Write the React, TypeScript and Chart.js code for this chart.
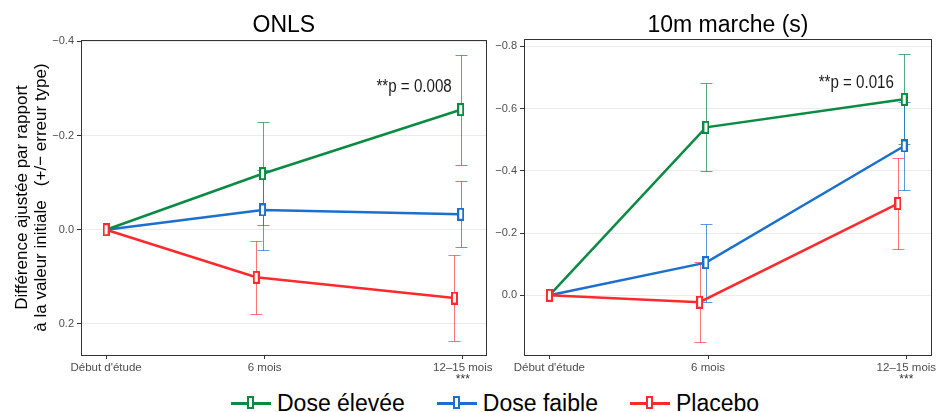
import React, { useEffect, useRef } from "react";
import { Chart, registerables } from "chart.js";

Chart.register(...registerables);

// ---------- data ----------
const months = [0, 6, 13.5];
const xTickLabels = ["Début d'étude", "6 mois", "12–15 mois"];
const xTickNotes = ["", "", "***"];

const seriesNames = ["Dose élevée", "Dose faible", "Placebo"];
const seriesColors = ["#0b8a43", "#1b6fce", "#ff2a2e"];
const seriesErrColors = ["rgba(11,138,67,0.7)", "rgba(27,111,206,0.7)", "rgba(255,42,46,0.65)"];
const seriesDodge = [-0.08, -0.08, -0.32];
const seriesOrder = [1, 2, 0];

// ONLS panel
const onlsHigh = [0, -0.119, -0.255];
const onlsHighSE = [0, 0.109, 0.117];
const onlsLow = [0, -0.042, -0.033];
const onlsLowSE = [0, 0.084, 0.07];
const onlsPlacebo = [0, 0.101, 0.145];
const onlsPlaceboSE = [0, 0.077, 0.092];
const onlsYTicks = [-0.4, -0.2, 0, 0.2];

// 10m marche panel
const walkHigh = [0, -0.54, -0.63];
const walkHighSE = [0, 0.1415, 0.145];
const walkLow = [0, -0.105, -0.48];
const walkLowSE = [0, 0.125, 0.141];
const walkPlacebo = [0, 0.022, -0.295];
const walkPlaceboSE = [0, 0.128, 0.147];
const walkYTicks = [-0.8, -0.6, -0.4, -0.2, 0];

const yTitleLines = ["Différence ajustée par rapport", "à la valeur initiale   (+/− erreur type)"];

const FONT = "'Liberation Sans', Arial, Helvetica, sans-serif";

type Panel = {
  title: string;
  means: number[][];
  ses: number[][];
  yMin: number;
  yMax: number;
  yTicks: number[];
  note: { text: string; x: number; y: number };
  showYTitle: boolean;
  yWidth: number;
  padTop: number;
  padRight: number;
  canvasW: number;
  xMin: number;
  xMax: number;
};

const panels: Panel[] = [
  {
    title: "ONLS",
    means: [onlsHigh, onlsLow, onlsPlacebo],
    ses: [onlsHighSE, onlsLowSE, onlsPlaceboSE],
    yMin: -0.403,
    yMax: 0.266,
    yTicks: onlsYTicks,
    note: { text: "**p = 0.008", x: 13.08, y: -0.303 },
    showYTitle: true,
    yWidth: 81,
    padTop: 40,
    padRight: 7,
    canvasW: 495,
    xMin: -0.95,
    xMax: 14.4,
  },
  {
    title: "10m marche (s)",
    means: [walkHigh, walkLow, walkPlacebo],
    ses: [walkHighSE, walkLowSE, walkPlaceboSE],
    yMin: -0.824,
    yMax: 0.192,
    yTicks: walkYTicks,
    note: { text: "**p = 0.016", x: 13.03, y: -0.682 },
    showYTitle: false,
    yWidth: 29,
    padTop: 39,
    padRight: 11,
    canvasW: 448,
    xMin: -0.96,
    xMax: 14.47,
  },
];

function fmtY(v: number) {
  if (Math.abs(v) < 1e-9) return "0.0";
  const s = Math.abs(v).toFixed(1);
  return v < 0 ? "−" + s : s;
}

function makeMarker(color: string) {
  const c = document.createElement("canvas");
  c.width = 7;
  c.height = 13;
  const ctx = c.getContext("2d")!;
  ctx.fillStyle = "#ffffff";
  ctx.fillRect(1, 1, 5, 11);
  ctx.strokeStyle = color;
  ctx.lineWidth = 2;
  ctx.strokeRect(1, 1, 5, 11);
  return c;
}

function PanelChart({ panel }: { panel: Panel }) {
  const ref = useRef<HTMLCanvasElement>(null);
  useEffect(() => {
    const canvas = ref.current!;
    const xOf = (s: number, m: number) => m + (m > 0 ? seriesDodge[s] : 0);

    const decor = {
      id: "decor",
      beforeDatasetsDraw(chart: any) {
        const ctx = chart.ctx;
        const xs = chart.scales.x;
        const ys = chart.scales.y;
        ctx.save();
        ctx.lineWidth = 1;
        panel.means.forEach((arr, s) => {
          ctx.strokeStyle = seriesErrColors[s];
          arr.forEach((m, i) => {
            const se = panel.ses[s][i];
            if (!se) return;
            const px = Math.round(xs.getPixelForValue(xOf(s, months[i]))) + 0.5;
            const y1 = Math.round(ys.getPixelForValue(m - se)) + 0.5;
            const y2 = Math.round(ys.getPixelForValue(m + se)) + 0.5;
            ctx.beginPath();
            ctx.moveTo(px, y1);
            ctx.lineTo(px, y2);
            ctx.moveTo(px - 6, y1);
            ctx.lineTo(px + 6, y1);
            ctx.moveTo(px - 6, y2);
            ctx.lineTo(px + 6, y2);
            ctx.stroke();
          });
        });
        ctx.restore();
      },
      afterDraw(chart: any) {
        const ctx = chart.ctx;
        const a = chart.chartArea;
        const xs = chart.scales.x;
        const ys = chart.scales.y;
        ctx.save();
        // frame
        ctx.strokeStyle = "#333333";
        ctx.lineWidth = 1;
        ctx.strokeRect(Math.round(a.left) + 0.5, Math.round(a.top) + 0.5, Math.round(a.right - a.left) - 1, Math.round(a.bottom - a.top));
        // title
        ctx.fillStyle = "#000";
        ctx.font = `23px ${FONT}`;
        ctx.textAlign = "center";
        ctx.textBaseline = "alphabetic";
        ctx.fillText(panel.title, (a.left + a.right) / 2, 32);
        // p-value note (condensed face)
        ctx.save();
        ctx.font = `18px ${FONT}`;
        ctx.fillStyle = "#1a1a1a";
        ctx.textAlign = "right";
        ctx.textBaseline = "middle";
        ctx.translate(xs.getPixelForValue(panel.note.x), ys.getPixelForValue(panel.note.y));
        ctx.scale(0.84, 1);
        ctx.fillText(panel.note.text, 0, 0);
        ctx.restore();
        // tick notes
        ctx.font = `12px ${FONT}`;
        ctx.fillStyle = "#333";
        ctx.textAlign = "center";
        ctx.textBaseline = "middle";
        months.forEach((m, i) => {
          if (xTickNotes[i]) ctx.fillText(xTickNotes[i], xs.getPixelForValue(m), a.bottom + 25);
        });
        // y title
        if (panel.showYTitle) {
          ctx.font = `17px ${FONT}`;
          ctx.fillStyle = "#000";
          ctx.textAlign = "center";
          ctx.textBaseline = "alphabetic";
          ctx.translate(0, (a.top + a.bottom) / 2);
          ctx.rotate(-Math.PI / 2);
          ctx.fillText(yTitleLines[0], 0, 27);
          ctx.fillText(yTitleLines[1], 0, 46);
        }
        ctx.restore();
      },
    };

    const datasets = panel.means.map((arr, s) => ({
      label: seriesNames[s],
      data: arr.map((v, i) => ({ x: xOf(s, months[i]), y: v })),
      borderColor: seriesColors[s],
      backgroundColor: seriesColors[s],
      borderWidth: 2.5,
      pointStyle: makeMarker(seriesColors[s]) as any,
      pointRadius: 5,
      tension: 0,
      order: seriesOrder[s],
    }));

    const chart = new Chart(canvas, {
      type: "line",
      data: { datasets },
      plugins: [decor],
      options: {
        animation: false,
        responsive: false,
        devicePixelRatio: 1,
        layout: { padding: { top: panel.padTop, right: panel.padRight, left: 0, bottom: 0 } },
        plugins: { legend: { display: false }, tooltip: { enabled: false }, title: { display: false } },
        scales: {
          x: {
            type: "linear",
            min: panel.xMin,
            max: panel.xMax,
            afterFit: (s: any) => {
              s.height = 35;
            },
            afterBuildTicks: (s: any) => {
              s.ticks = months.map((v) => ({ value: v }));
            },
            ticks: {
              callback: (v: any) => xTickLabels[months.indexOf(Number(v))] ?? "",
              font: { family: FONT, size: 11.5 },
              color: "#4d4d4d",
              padding: 2,
              maxRotation: 0,
              autoSkip: false,
            },
            grid: { drawOnChartArea: false, tickLength: 4, tickColor: "#333", tickWidth: 1 },
            border: { display: false },
          },
          y: {
            type: "linear",
            reverse: true,
            min: panel.yMin,
            max: panel.yMax,
            afterFit: (s: any) => {
              s.width = panel.yWidth;
            },
            afterBuildTicks: (s: any) => {
              s.ticks = panel.yTicks.map((v) => ({ value: v }));
            },
            ticks: {
              callback: (v: any) => fmtY(Number(v)),
              font: { family: FONT, size: 11 },
              color: "#4d4d4d",
              padding: 3,
            },
            grid: { color: "#ebebeb", lineWidth: 1, tickLength: 4, tickColor: "#333", tickWidth: 1 },
            border: { display: false },
          },
        },
      } as any,
    });
    return () => chart.destroy();
  }, [panel]);
  return <canvas ref={ref} width={panel.canvasW} height={390} style={{ width: panel.canvasW, height: 390, display: "block" }} />;
}

function LegendItem({ name, color }: { name: string; color: string }) {
  return (
    <div style={{ display: "flex", alignItems: "center", marginRight: 32 }}>
      <div style={{ position: "relative", width: 40, height: 14, marginRight: 6 }}>
        <div style={{ position: "absolute", left: 0, right: 0, top: 6, height: 2.5, background: color }} />
        <div
          style={{
            position: "absolute",
            left: 16,
            top: 0,
            width: 3,
            height: 9,
            border: `2px solid ${color}`,
            background: "#fff",
          }}
        />
      </div>
      <span style={{ font: `23px ${FONT}`, color: "#000", lineHeight: "26px" }}>{name}</span>
    </div>
  );
}

export default function App() {
  return (
    <div style={{ position: "fixed", left: 0, top: 0, width: 943, height: 412, background: "#fff", overflow: "hidden" }}>
      <div style={{ position: "absolute", left: 0, top: 0, display: "flex" }}>
        <PanelChart panel={panels[0]} />
        <PanelChart panel={panels[1]} />
      </div>
      <div style={{ position: "absolute", left: 231, top: 390, display: "flex", alignItems: "center" }}>
        {seriesNames.map((n, i) => (
          <LegendItem key={n} name={n} color={seriesColors[i]} />
        ))}
      </div>
    </div>
  );
}
